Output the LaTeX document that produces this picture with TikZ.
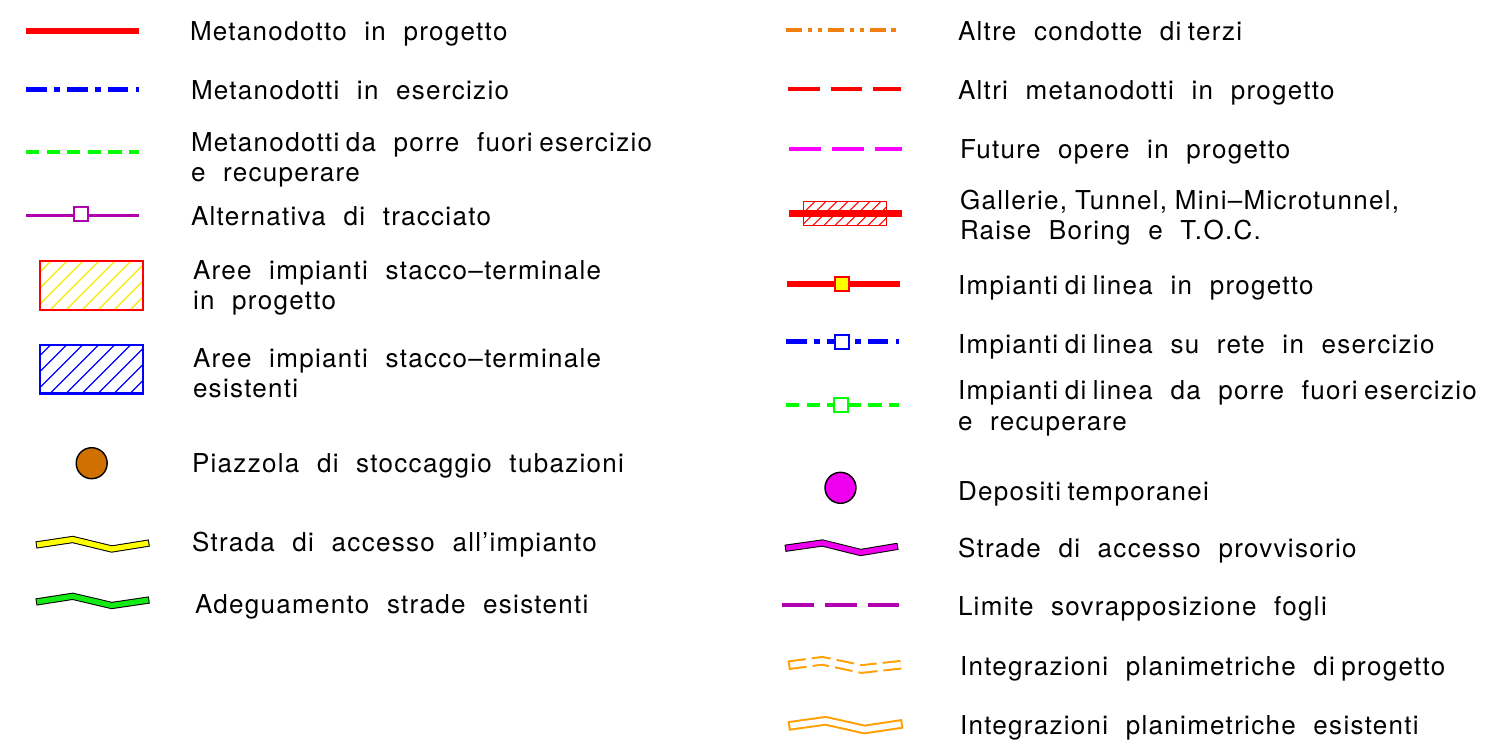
\documentclass[tikz,border=0pt]{standalone}
\usepackage{fontspec}
\setmainfont{TeX Gyre Heros}[LetterSpace=5]
\usetikzlibrary{calc}
\definecolor{gasred}{RGB}{255,0,0}
\definecolor{gasblue}{RGB}{0,0,255}
\definecolor{gasgreen}{RGB}{0,255,0}
\definecolor{altviolet}{RGB}{176,0,176}
\definecolor{futmag}{RGB}{255,0,255}
\definecolor{depmag}{RGB}{238,0,238}
\definecolor{terzorange}{RGB}{240,128,16}
\definecolor{integorange}{RGB}{255,160,0}
\definecolor{stockbrown}{RGB}{208,112,0}
\definecolor{roadyellow}{RGB}{255,255,0}
\definecolor{hatchyellow}{RGB}{250,230,0}
\definecolor{roadgreen}{RGB}{20,235,20}
\newcommand{\legsp}{\hspace{0.25em}}
\newcommand{\legfont}{\fontsize{13}{15}\selectfont\spaceskip=0.68em\relax}
\newcommand{\legroad}[3]{\draw[#1] #3; \draw[#2] #3;}
\tikzset{
      every node/.style = { inner sep=0pt, outer sep=0pt },
         legtext/.style = { anchor=base west, font=\legfont },
          gasnew/.style = { draw=gasred, line width=2.7pt },
          gasold/.style = { draw=gasblue, line width=2.1pt, dash pattern=on 10.4pt off 3.6pt on 2.9pt off 3.5pt },
          gasdis/.style = { draw=gasgreen, line width=2pt, dash pattern=on 6.6pt off 3.7pt },
          altern/.style = { draw=altviolet, line width=1.6pt },
           sqbox/.style = { draw=#1, fill=white, line width=1pt, minimum size=7pt },
         hatchln/.style = { draw=#1, line width=0.6pt },
         areabox/.style = { draw=#1, line width=1.1pt },
         stockpt/.style = { circle, draw=black, line width=0.7pt, fill=#1, minimum size=15.5pt },
          longdash/.style = { draw=#1, line width=2pt, dash pattern=on 15.8pt off 5.5pt },
         terzline/.style = { draw=terzorange, line width=2.1pt, dash pattern=on 8.2pt off 2.7pt on 2.3pt off 2.7pt on 2.3pt off 2.7pt },
        roadedge/.style = { draw=black, line width=3.6pt },
        roadfill/.style = { draw=#1, line width=2.6pt, shorten <=0.5pt, shorten >=0.5pt },
       integedge/.style = { draw=integorange, line width=4.8pt },
       integfill/.style = { draw=white, line width=2.8pt, shorten <=1pt, shorten >=1pt }
}
\begin{document}
\begin{tikzpicture}[x=0.5pt, y=-0.5pt]
  \useasboundingbox (0,0) rectangle (1494,743);

  % left column
  \draw[gasnew] (26,31) -- (139,31);
  \node[legtext] (t1) at (190,41) {Metanodotto in progetto};
  \draw[gasold] (26,89.5) -- (139,89.5);
  \node[legtext] (t2) at (191,100) {Metanodotti in esercizio};
  \draw[gasdis] (26,152.3) -- (139,152.3);
  \node[legtext] (t3) at (191,152) {Metanodotti\legsp da porre fuori\legsp esercizio};
  \node[legtext] (t3b) at (191,182) {e recuperare};
  \draw[altern] (26,215.3) -- (139,215.3);
  \node[sqbox=altviolet] (sqalt) at (81.3,214.3) {};
  \node[legtext] (t4) at (191,226) {Alternativa di tracciato};

  \begin{scope}
    \clip (40,261) rectangle (143,310);
    \foreach \k in {0,16,...,176}
      \draw[hatchln=hatchyellow] (\k-30,310) -- ++(60,-60);
  \end{scope}
  \draw[areabox=gasred] (40,261) rectangle (143,310);
  \node[legtext] (t5) at (193,279) {Aree impianti stacco--terminale};
  \node[legtext] (t5b) at (193,309) {in progetto};

  \begin{scope}
    \clip (40,345) rectangle (143,393.5);
    \foreach \k in {0,16,...,176}
      \draw[hatchln=gasblue] (\k-30,393.5) -- ++(60,-60);
  \end{scope}
  \draw[areabox=gasblue] (40,345) rectangle (143,393.5);
  \node[legtext] (t6) at (193,367) {Aree impianti stacco--terminale};
  \node[legtext] (t6b) at (193,397) {esistenti};

  \node[stockpt=stockbrown] (stock) at (91.7,463.2) {};
  \node[legtext] (t7) at (192,472) {Piazzola di stoccaggio tubazioni};

  \legroad{roadedge}{roadfill=roadyellow}{(36,545) -- (72.7,539.5) -- (111.7,549) -- (149.3,543)}
  \node[legtext] (t8) at (192,551) {Strada di accesso all’impianto};
  \legroad{roadedge}{roadfill=roadgreen}{(36,602) -- (72.7,596.3) -- (111.7,605.5) -- (149.3,600)}
  \node[legtext] (t9) at (195,613) {Adeguamento strade esistenti};

  % right column
  \draw[terzline] (786,30) -- (896,30);
  \node[legtext] (r1) at (958,41) {Altre condotte di\legsp terzi};
  \draw[longdash=gasred] (788,89) -- (901,89);
  \node[legtext] (r2) at (958,100) {Altri metanodotti in progetto};
  \draw[longdash=futmag] (789.3,148.7) -- (902,148.7);
  \node[legtext] (r3) at (960,159) {Future opere in progetto};

  \begin{scope}
    \clip (803.7,201.3) rectangle (886.7,225.3);
    \foreach \k in {0,11,...,110}
      \draw[hatchln=gasred, line width=0.5pt] (\k+780,225.3) -- ++(30,-30);
  \end{scope}
  \draw[draw=gasred, line width=0.6pt] (803.7,201.3) rectangle (886.7,225.3);
  \draw[gasred, line width=3.3pt] (789.3,213.3) -- (902,213.3);
  \node[legtext] (r4) at (960,210) {Gallerie,\hspace{0.3em}Tunnel,\hspace{0.3em}Mini--Microtunnel,};
  \node[legtext] (r4b) at (960,240) {Raise Boring e T.O.C.};

  \draw[gasred, line width=3pt] (786.7,283.7) -- (900,283.7);
  \node[sqbox=gasred, fill=roadyellow] (sqnew) at (842,284) {};
  \node[legtext] (r5) at (958,295) {Impianti\legsp di\legsp linea in progetto};
  \draw[gasold, line width=2.3pt] (786,341.7) -- (899,341.7);
  \node[sqbox=gasblue] (sqold) at (842,342) {};
  \node[legtext] (r6) at (958,353) {Impianti\legsp di\legsp linea su rete in esercizio};
  \draw[gasdis] (786,405.3) -- (898.5,405.3);
  \node[sqbox=gasgreen] (sqdis) at (841.3,405) {};
  \node[legtext] (r7) at (958,400) {Impianti\legsp di\legsp linea da porre fuori\legsp esercizio};
  \node[legtext] (r7b) at (958,430) {e recuperare};

  \node[stockpt=depmag] (depo) at (840.5,487.8) {};
  \node[legtext] (r8) at (958,500) {Depositi\legsp temporanei};

  \legroad{roadedge}{roadfill=depmag}{(785,548.3) -- (822.3,543) -- (860.7,552.5) -- (898,546.3)}
  \node[legtext] (r9) at (958,557) {Strade di accesso provvisorio};
  \draw[longdash=altviolet] (782.3,605.3) -- (898.7,605.3);
  \node[legtext] (r10) at (958,615) {Limite sovrapposizione fogli};

  \legroad{integedge, dash pattern=on 9pt off 3pt}{integfill}{(788.3,665.3) -- (822.3,660.8) -- (861.7,669) -- (902.7,664.5)}
  \node[legtext] (r11) at (960,675) {Integrazioni planimetriche di\legsp progetto};
  \legroad{integedge}{integfill}{(788.3,726) -- (825.7,720.8) -- (864.3,729.5) -- (902.7,723.8)}
  \node[legtext] (r12) at (960,734) {Integrazioni planimetriche esistenti};
\end{tikzpicture}
\end{document}
